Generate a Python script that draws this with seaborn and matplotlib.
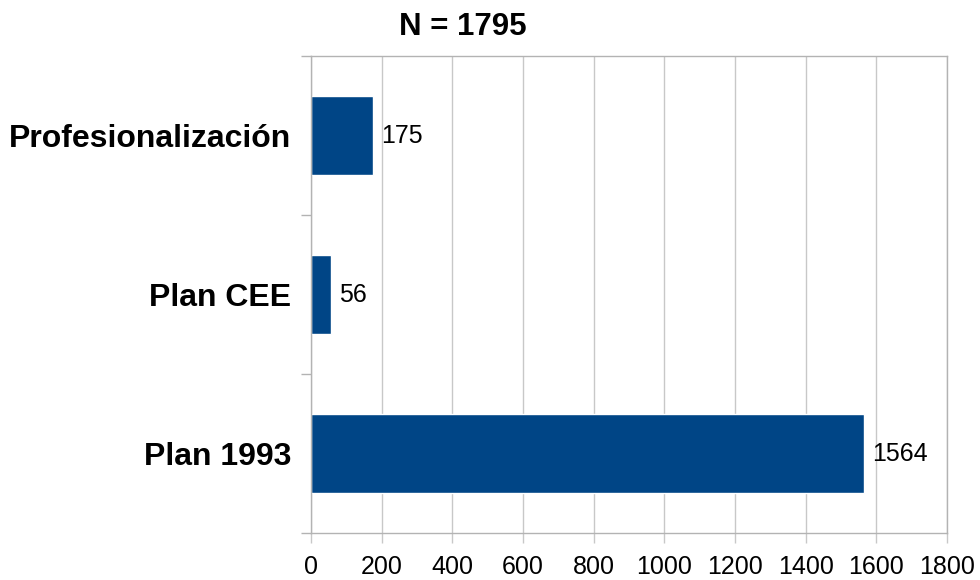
import numpy as np
import pandas as pd
import matplotlib.pyplot as plt
import seaborn as sns
from matplotlib.ticker import FixedLocator

categories = ['Profesionalización', 'Plan CEE', 'Plan 1993']
counts = [175, 56, 1564]
title = 'N = 1795'

df = pd.DataFrame({'plan': categories, 'n': counts})

sns.set_style('white')
plt.rcParams['font.family'] = ['Liberation Sans', 'DejaVu Sans']
plt.rcParams['text.color'] = 'black'
plt.rcParams['xtick.color'] = 'black'
plt.rcParams['ytick.color'] = 'black'

fig = plt.figure(figsize=(9.8, 5.8), dpi=100)
ax = fig.add_axes([311 / 980, 1 - 533 / 580, (947 - 311) / 980, (533 - 56) / 580])

sns.barplot(data=df, x='n', y='plan', orient='h', color='#004586', width=0.5,
            saturation=1, ax=ax)

for cont in ax.containers:
    ax.bar_label(cont, labels=[str(v) for v in counts], padding=6, fontsize=18,
                 color='black')

ax.set_xlim(0, 1800)
ax.set_ylim(2.5, -0.5)
ax.set_xticks(np.arange(0, 1801, 200))
ax.set_xlabel('')
ax.set_ylabel('')
ax.grid(axis='x', color='#c8c8c8', linewidth=1)
ax.set_axisbelow(True)
for s in ax.spines.values():
    s.set_visible(True)
    s.set_color('#b3b3b3')
    s.set_linewidth(1)

ax.tick_params(axis='x', bottom=True, length=7.5, width=1, color='#c8c8c8',
               labelcolor='black', labelsize=18, pad=8)
ax.tick_params(axis='y', which='major', length=0, labelsize=23,
               labelcolor='black', pad=14)
ax.yaxis.set_minor_locator(FixedLocator([-0.5, 0.5, 1.5, 2.5]))
ax.tick_params(axis='y', which='minor', left=True, length=7.5, width=1,
               color='#b3b3b3')
for lbl in ax.get_yticklabels():
    lbl.set_fontweight('bold')

fig.text(463 / 980, 1 - 27 / 580, title, ha='center', va='center',
         fontsize=22.5, fontweight='bold', color='black')

fig.savefig('out.png', dpi=100)
